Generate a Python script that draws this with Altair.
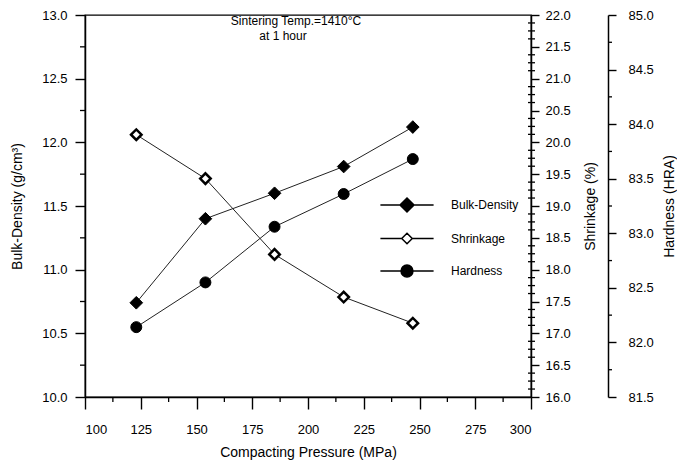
import altair as alt
import pandas as pd

# ---- data ----
pressure = [123, 154, 185, 216, 247]
bulk_density = [10.74, 11.40, 11.60, 11.81, 12.12]
shrinkage = [20.12, 19.43, 18.24, 17.57, 17.16]
hardness = [82.14, 82.55, 83.06, 83.36, 83.68]
series_names = ["Bulk-Density", "Shrinkage", "Hardness"]

x_major = [100, 125, 150, 175, 200, 225, 250, 275, 300]
x_minor = [112.5, 137.5, 162.5, 187.5, 212.5, 237.5, 262.5, 287.5]
bulk_major = [10.0, 10.5, 11.0, 11.5, 12.0, 12.5, 13.0]
bulk_minor = [10.25, 10.75, 11.25, 11.75, 12.25, 12.75]
shrink_major = [16.0, 16.5, 17.0, 17.5, 18.0, 18.5, 19.0, 19.5, 20.0, 20.5, 21.0, 21.5, 22.0]
shrink_minor = [16.125, 16.25, 16.375, 16.625, 16.75, 16.875, 17.125, 17.25, 17.375,
                17.625, 17.75, 17.875, 18.125, 18.25, 18.375, 18.625, 18.75, 18.875,
                19.125, 19.25, 19.375, 19.625, 19.75, 19.875, 20.125, 20.25, 20.375,
                20.625, 20.75, 20.875, 21.125, 21.25, 21.375, 21.625, 21.75, 21.875]
hard_major = [81.5, 82.0, 82.5, 83.0, 83.5, 84.0, 84.5, 85.0]
hard_minor = [81.75, 82.25, 82.75, 83.25, 83.75, 84.25, 84.75]

note_line1 = "Sintering Temp.=1410\u00b0C"
note_line2 = "at 1 hour"

FONT = "Liberation Sans"
FS = 13      # tick labels
AFS = 14     # axis titles
TFS = 12     # legend / note
W, H = 446, 382
HARD_OFFSET = 77

df = pd.DataFrame({"pressure": pressure, "bulk": bulk_density,
                   "shrink": shrinkage, "hard": hardness})


def make_axis(values, size, fmt, **kw):
    return alt.Axis(
        values=values, format=fmt, tickSize=size,
        grid=False, domainColor="black", domainWidth=1.5, tickColor="black", tickWidth=1.4,
        labelColor="black", labelFont=FONT, labelFontSize=FS, titleFont=FONT,
        titleFontSize=AFS, titleColor="black", titleFontWeight="normal", **kw)


x_scale = alt.Scale(domain=[100, 300], nice=False)
x_enc = alt.X("pressure:Q", scale=x_scale,
              axis=make_axis(x_major, 12, "d", labelPadding=14,
                             title="Compacting Pressure (MPa)", titlePadding=9))


def series_layer(field, domain, axis, shape, filled, size, sw, minor, x0, x1):
    yscale = alt.Scale(domain=domain, nice=False, zero=False)
    base = alt.Chart(df).encode(
        x=x_enc, y=alt.Y(f"{field}:Q", scale=yscale, axis=axis))
    line = base.mark_line(color="#222222", strokeWidth=1)
    pts = base.mark_point(shape=shape, filled=True, size=size,
                          fill="black" if filled else "white", stroke="black",
                          strokeWidth=sw, opacity=1)
    # minor ticks of this axis, placed through the same y scale
    minor_ticks = alt.Chart(pd.DataFrame({field: minor})).mark_rule(
        color="black", strokeWidth=1.3).encode(
        y=alt.Y(f"{field}:Q", scale=yscale, axis=axis),
        x=alt.value(x0), x2=alt.value(x1))
    return alt.layer(line, pts, minor_ticks)


bulk_layer = series_layer(
    "bulk", [10, 13],
    make_axis(bulk_major, 10, ".1f", orient="left", labelPadding=8,
              title="Bulk-Density (g/cm\u00b3)", titleAngle=270, titleX=-68,
              titleBaseline="middle", titleAlign="center"),
    "diamond", True, 160, 1, bulk_minor, 0, -5)

shrink_layer = series_layer(
    "shrink", [16, 22],
    make_axis(shrink_major, 8, ".1f", orient="right", labelPadding=6,
              title="Shrinkage (%)", titleAngle=270, titleX=59,
              titleBaseline="middle", titleAlign="center"),
    "diamond", False, 110, 2.5, shrink_minor, W - 3, W + 4)

hard_layer = series_layer(
    "hard", [81.5, 85],
    make_axis(hard_major, 8, ".1f", orient="right", offset=HARD_OFFSET, labelPadding=12,
              title="Hardness (HRA)", titleAngle=270, titleX=61,
              titleBaseline="middle", titleAlign="center"),
    "circle", True, 120, 1, hard_minor, W + HARD_OFFSET, W + HARD_OFFSET + 4)

# minor ticks of the x axis, placed through the shared x scale
x_minor_ticks = alt.Chart(pd.DataFrame({"pressure": x_minor})).mark_rule(
    color="black", strokeWidth=1.3).encode(
    x=x_enc, y=alt.value(H), y2=alt.value(H + 5))

# legend (drawn by Vega-Lite from shape/fill/stroke scales; the layer draws no marks)
legend_paths = [
    "M-3.8,0H3.8M0,-1L1,0L0,1L-1,0Z",
    "M-3.8,0H-0.75M0.75,0H3.8M0,-0.75L0.75,0L0,0.75L-0.75,0Z",
    "M-3.8,0H3.8M-0.85,0A0.85,0.85,0,1,0,0.85,0A0.85,0.85,0,1,0,-0.85,0Z",
]
leg = dict(title=None, orient="none", legendX=314, legendY=182, symbolSize=196,
           symbolStrokeWidth=1.5, labelOffset=36, symbolOpacity=1,
           rowPadding=14.5, labelFont=FONT, labelFontSize=TFS, labelColor="black")
legend_layer = alt.Chart(pd.DataFrame({"series": series_names})).transform_filter(
    "false").mark_point(filled=True, opacity=1).encode(
    shape=alt.Shape("series:N", scale=alt.Scale(domain=series_names, range=legend_paths),
                    legend=alt.Legend(**leg)),
    fill=alt.Fill("series:N", scale=alt.Scale(domain=series_names, range=["black", "white", "black"]),
                  legend=alt.Legend(**leg)),
    stroke=alt.Stroke("series:N", scale=alt.Scale(domain=series_names, range=["black", "black", "black"]),
                      legend=alt.Legend(**leg)),
)

note1 = alt.Chart(pd.DataFrame({"t": [note_line1]})).mark_text(
    font=FONT, fontSize=TFS, color="black", align="center", baseline="middle").encode(
    text="t:N", x=alt.value(211), y=alt.value(6))
note2 = alt.Chart(pd.DataFrame({"t": [note_line2]})).mark_text(
    font=FONT, fontSize=TFS, color="black", align="center", baseline="middle").encode(
    text="t:N", x=alt.value(198), y=alt.value(21))

chart = alt.layer(bulk_layer, shrink_layer, hard_layer, x_minor_ticks, legend_layer,
                  note1, note2).resolve_scale(y="independent").properties(
    width=W, height=H,
    autosize=alt.AutoSizeParams(type="none"),
    padding={"left": 85, "top": 15, "right": 146, "bottom": 69},
    background="white",
).configure_view(stroke="black", strokeWidth=1.3)

chart.save("out.html", embed_options={"renderer": "svg", "actions": False})
